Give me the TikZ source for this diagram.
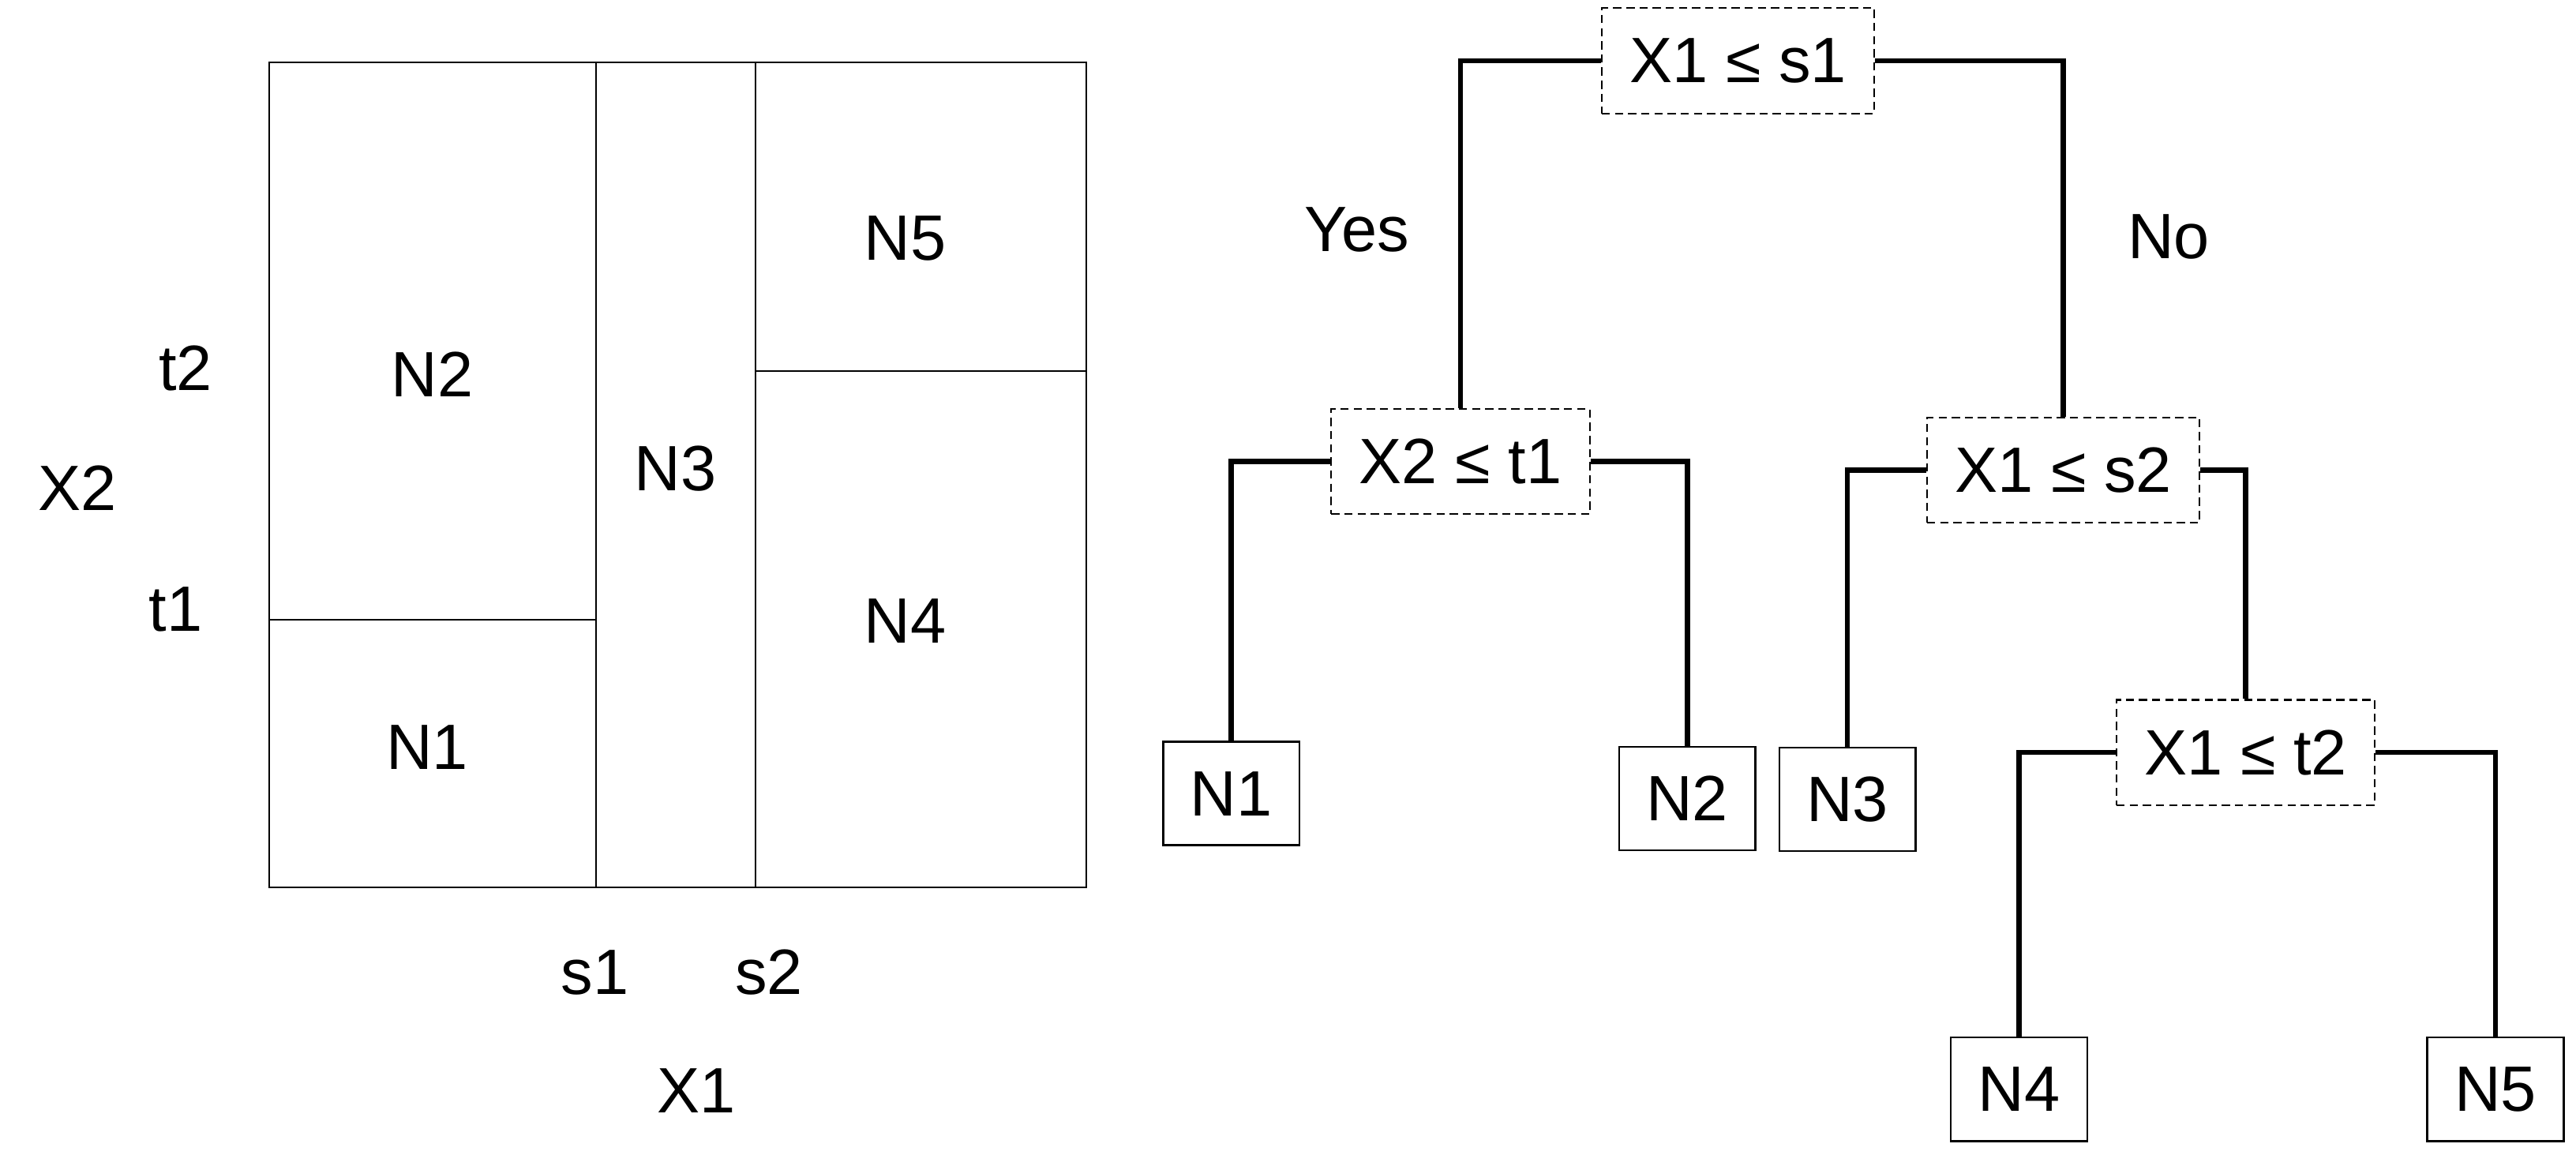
\documentclass[tikz,border=0pt]{standalone}
\usepackage{fontspec}
\setmainfont{Liberation Sans}

\begin{document}
\begin{tikzpicture}[x=1pt,y=-1pt,
  every node/.style={font=\fontsize{39}{47}\selectfont},
  split/.style={draw,dash pattern=on 5pt off 3pt,line width=1pt,minimum height=64pt,inner xsep=17pt},
  leaf/.style={draw,line width=1.2pt,minimum width=83pt,minimum height=63pt,inner sep=0pt},
  branch/.style={line width=3.2pt}]
  \useasboundingbox (0,0) rectangle (1568,712);
  % regions of the plane
  \draw[line width=1pt] (164,38) rectangle (661,540);
  \draw[line width=1pt] (363,38) -- (363,540) (460,38) -- (460,540)
    (164,377) -- (363,377) (460,226) -- (661,226);
  \node (r2) at (263,228) {N2};
  \node (r1) at (260,455) {N1};
  \node (r3) at (411,285) {N3};
  \node (r5) at (551,145) {N5};
  \node (r4) at (551,378) {N4};
  \node (t2) at (113,224) {t2};
  \node (x2) at (47,297) {X2};
  \node (t1) at (107,371) {t1};
  \node (s1) at (362,592) {s1};
  \node (s2) at (468,592) {s2};
  \node (x1) at (424,664) {X1};
  % the tree
  \node[split] (root) at (1058,37) {X1 ≤ s1};
  \node[split] (a) at (889,281) {X2 ≤ t1};
  \node[split] (b) at (1256,286) {X1 ≤ s2};
  \node[split] (c) at (1367,458) {X1 ≤ t2};
  \node[leaf] (n1) at (749.5,483) {N1};
  \node[leaf] (n2) at (1027,486) {N2};
  \node[leaf] (n3) at (1124.5,486.5) {N3};
  \node[leaf] (n4) at (1229,663) {N4};
  \node[leaf] (n5) at (1519,663) {N5};
  \node (yes) at (826,140) {Yes};
  \node (no) at (1320,144) {No};
  \draw[branch] (root.west) -| (a.north) (root.east) -| (b.north)
    (a.west) -| (n1.north) (a.east) -| (n2.north)
    (b.west) -| (n3.north) (b.east) -| (c.north)
    (c.west) -| (n4.north) (c.east) -| (n5.north);
\end{tikzpicture}
\end{document}
